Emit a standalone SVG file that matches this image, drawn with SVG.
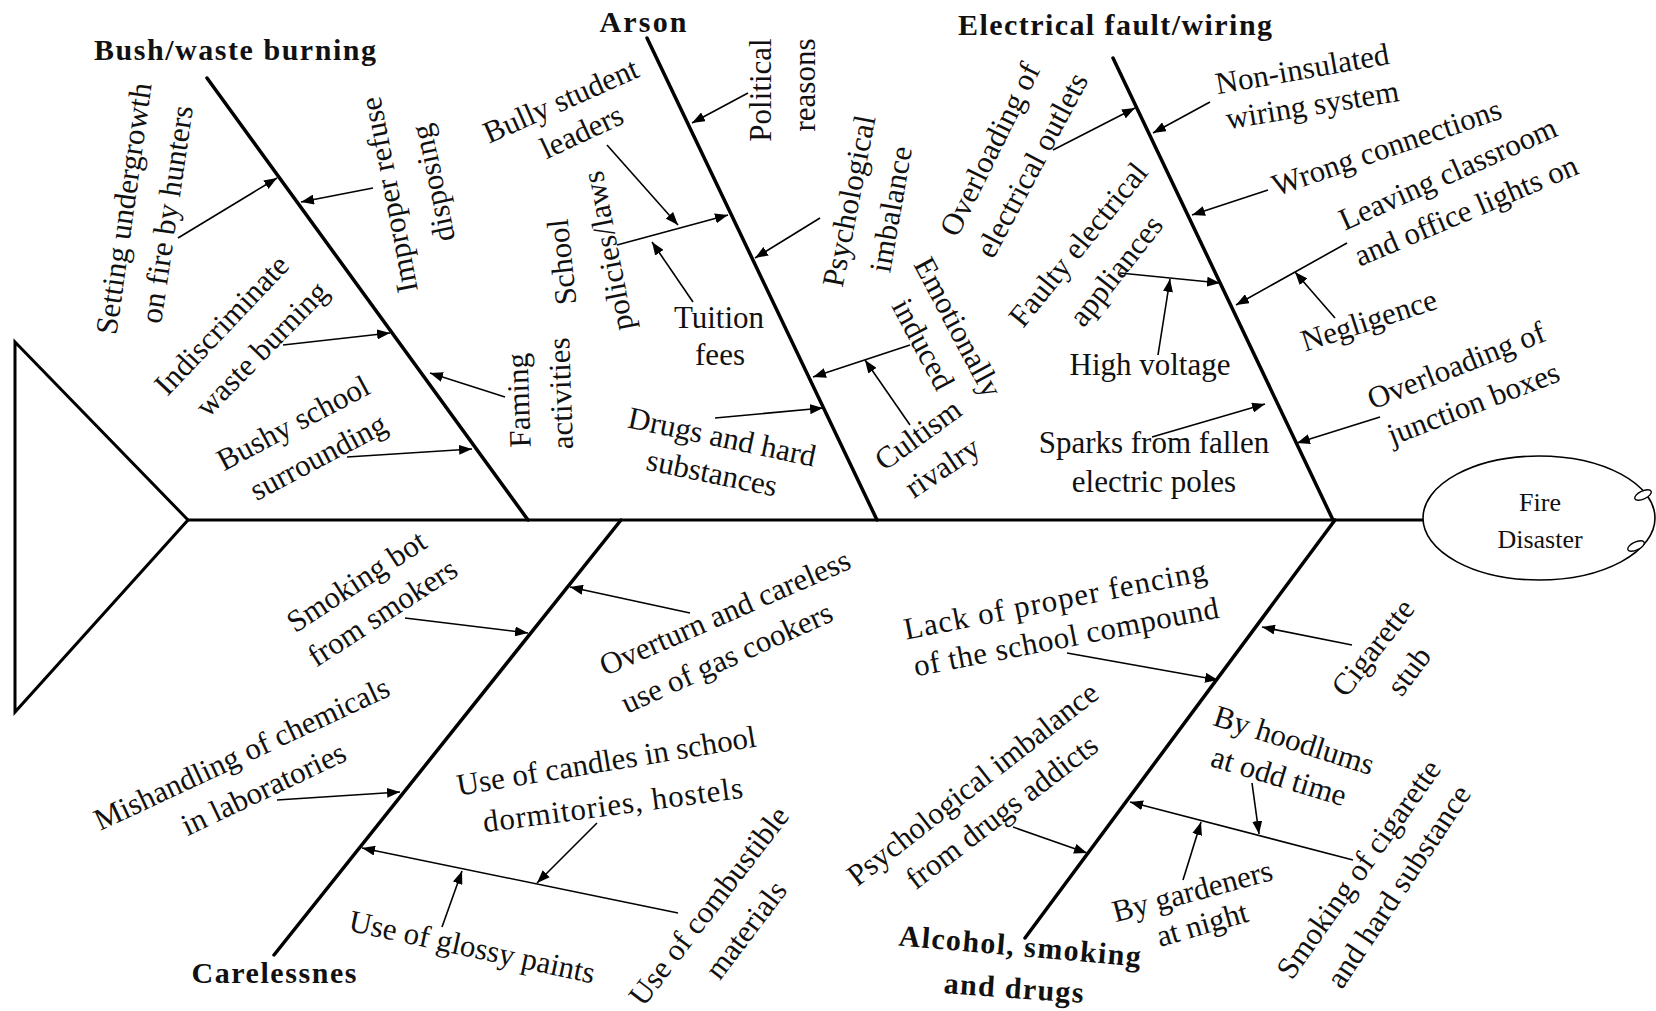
<svg xmlns="http://www.w3.org/2000/svg" width="1656" height="1011" viewBox="0 0 1656 1011">
<defs>
<marker id="ah" markerUnits="userSpaceOnUse" markerWidth="14" markerHeight="10" refX="13" refY="5" orient="auto">
<path d="M0,0 L13,5 L0,10 z" fill="#000"/>
</marker>
<style>
.sk{stroke:#000;stroke-width:3.5;fill:none;stroke-linecap:round}
.sp{stroke:#000;stroke-width:3;fill:none}
.ar{stroke:#000;stroke-width:1.6;fill:none;marker-end:url(#ah)}
.ln{stroke:#000;stroke-width:1.6;fill:none}
text{font-family:"Liberation Serif","Times New Roman",serif;font-size:31px;fill:#111;text-anchor:middle}
.h{font-weight:bold;font-size:30px}
.e{font-size:26px}
</style>
</defs>
<rect width="1656" height="1011" fill="#fff"/>

<g id="skeleton">
<polygon class="sp" points="15,342 188,520 15,712"/>
<line class="sp" x1="188" y1="520" x2="1423" y2="520"/>
<line class="sk" x1="207" y1="78" x2="528" y2="520"/>
<line class="sk" x1="647" y1="38" x2="877" y2="520"/>
<line class="sk" x1="1113" y1="58" x2="1333" y2="520"/>
<line class="sk" x1="621" y1="520" x2="274" y2="955"/>
<line class="sk" x1="1335" y1="520" x2="1025" y2="938"/>
</g>

<g id="effect">
<ellipse cx="1539" cy="518" rx="116" ry="62" fill="none" stroke="#000" stroke-width="1.6"/>
<ellipse cx="1643" cy="495" rx="9" ry="4" transform="rotate(-25 1643 495)" fill="#fff" stroke="#000" stroke-width="1.4"/>
<ellipse cx="1636" cy="546" rx="9" ry="4" transform="rotate(-25 1636 546)" fill="#fff" stroke="#000" stroke-width="1.4"/>
<text class="e" x="1540" y="511">Fire</text>
<text class="e" x="1540" y="548">Disaster</text>
</g>

<g id="connectors">
<line class="ar" x1="178" y1="238" x2="277" y2="178"/>
<line class="ar" x1="373" y1="188" x2="301" y2="202"/>
<line class="ar" x1="283" y1="345" x2="390" y2="333"/>
<line class="ar" x1="347" y1="457" x2="472" y2="449"/>
<line class="ar" x1="505" y1="397" x2="430" y2="373"/>
<line class="ar" x1="607" y1="145" x2="678" y2="225"/>
<line class="ar" x1="617" y1="245" x2="728" y2="215"/>
<line class="ar" x1="693" y1="302" x2="652" y2="242"/>
<line class="ar" x1="748" y1="93" x2="692" y2="123"/>
<line class="ar" x1="820" y1="218" x2="755" y2="258"/>
<line class="ar" x1="910" y1="345" x2="813" y2="377"/>
<line class="ar" x1="910" y1="425" x2="865" y2="360"/>
<line class="ar" x1="715" y1="418" x2="823" y2="408"/>
<line class="ar" x1="1053" y1="150" x2="1135" y2="108"/>
<line class="ar" x1="1210" y1="102" x2="1153" y2="133"/>
<line class="ar" x1="1268" y1="190" x2="1192" y2="215"/>
<line class="ar" x1="1347" y1="243" x2="1236" y2="305"/>
<line class="ar" x1="1335" y1="318" x2="1295" y2="272"/>
<line class="ar" x1="1120" y1="273" x2="1220" y2="283"/>
<line class="ar" x1="1158" y1="355" x2="1170" y2="279"/>
<line class="ar" x1="1152" y1="437" x2="1265" y2="404"/>
<line class="ar" x1="1380" y1="417" x2="1297" y2="443"/>
<line class="ar" x1="405" y1="618" x2="528" y2="633"/>
<line class="ar" x1="690" y1="613" x2="570" y2="587"/>
<line class="ar" x1="277" y1="800" x2="400" y2="792"/>
<line class="ar" x1="678" y1="913" x2="362" y2="848"/>
<line class="ar" x1="597" y1="823" x2="537" y2="883"/>
<line class="ar" x1="442" y1="927" x2="462" y2="871"/>
<line class="ar" x1="1067" y1="653" x2="1218" y2="680"/>
<line class="ar" x1="1352" y1="645" x2="1262" y2="627"/>
<line class="ar" x1="1013" y1="827" x2="1087" y2="853"/>
<line class="ar" x1="1353" y1="860" x2="1130" y2="802"/>
<line class="ar" x1="1252" y1="783" x2="1259" y2="834"/>
<line class="ar" x1="1183" y1="880" x2="1201" y2="822"/>
</g>

<g id="cat-bush"><text class="h" x="235" y="60" textLength="282" lengthAdjust="spacing">Bush/waste burning</text></g>
<g id="cat-arson"><text class="h" x="643" y="32" textLength="87" lengthAdjust="spacing">Arson</text></g>
<g id="cat-electrical"><text class="h" x="1115" y="35" textLength="314" lengthAdjust="spacing">Electrical fault/wiring</text></g>
<g id="cat-careless"><text class="h" x="274" y="983" textLength="165" lengthAdjust="spacing">Carelessnes</text></g>
<g id="cat-alcohol">
<text class="h" x="1019" y="956" transform="rotate(5 1019 956)" textLength="243" lengthAdjust="spacing">Alcohol, smoking</text>
<text class="h" x="1013" y="998" transform="rotate(4 1013 998)" textLength="140" lengthAdjust="spacing">and drugs</text>
</g>

<g id="c-setting">
<text x="134" y="210" transform="rotate(-82 134 210)">Setting undergrowth</text>
<text x="177" y="216" transform="rotate(-81.6 177 216)">on fire by hunters</text>
</g>
<g id="c-improper">
<text x="399" y="193" transform="rotate(-101 399 193)">Improper refuse</text>
<text x="443" y="181" transform="rotate(-102 443 181)">disposing</text>
</g>
<g id="c-indiscriminate">
<text x="229" y="332" transform="rotate(-46.5 229 332)">Indiscriminate</text>
<text x="269" y="356" transform="rotate(-45.7 269 356)">waste burning</text>
</g>
<g id="c-bushy">
<text x="298" y="432" transform="rotate(-28 298 432)">Bushy school</text>
<text x="323" y="466" transform="rotate(-28 323 466)">surrounding</text>
</g>
<g id="c-faming">
<text x="529" y="400" transform="rotate(-92 529 400)">Faming</text>
<text x="571" y="393" transform="rotate(-92 571 393)">activities</text>
</g>

<g id="c-bully">
<text x="565" y="110" transform="rotate(-24 565 110)">Bully student</text>
<text x="586" y="141" transform="rotate(-25 586 141)">leaders</text>
</g>
<g id="c-school">
<text x="572" y="261" transform="rotate(-96 572 261)">School</text>
<text x="618" y="249" transform="rotate(-101 618 249)">policies/laws</text>
</g>
<g id="c-tuition">
<text x="719" y="328">Tuition</text>
<text x="720" y="365">fees</text>
</g>
<g id="c-political">
<text x="771" y="90" transform="rotate(-90 771 90)">Political</text>
<text x="815" y="85" transform="rotate(-90 815 85)">reasons</text>
</g>
<g id="c-psych">
<text x="859" y="203" transform="rotate(-79 859 203)">Psychological</text>
<text x="901" y="211" transform="rotate(-80 901 211)">imbalance</text>
</g>
<g id="c-emotion">
<text x="949" y="332" transform="rotate(62 949 332)">Emotionally</text>
<text x="914" y="349" transform="rotate(62 914 349)">induced</text>
</g>
<g id="c-cultism">
<text x="924" y="443" transform="rotate(-36 924 443)">Cultism</text>
<text x="948" y="476" transform="rotate(-34 948 476)">rivalry</text>
</g>
<g id="c-drugs">
<text x="720" y="447" transform="rotate(11.9 720 447)">Drugs and hard</text>
<text x="710" y="483" transform="rotate(11.7 710 483)">substances</text>
</g>

<g id="c-outlets">
<text x="999" y="154" transform="rotate(-63.7 999 154)">Overloading of</text>
<text x="1041" y="170" transform="rotate(-62 1041 170)">electrical outlets</text>
</g>
<g id="c-noninsulated">
<text x="1304" y="79" transform="rotate(-10 1304 79)">Non-insulated</text>
<text x="1314" y="115" transform="rotate(-9.4 1314 115)">wiring system</text>
</g>
<g id="c-wrong"><text x="1390" y="157" transform="rotate(-19 1390 157)">Wrong connections</text></g>
<g id="c-leaving">
<text x="1452" y="183" transform="rotate(-24 1452 183)">Leaving classroom</text>
<text x="1470" y="220" transform="rotate(-23 1470 220)">and office lights on</text>
</g>
<g id="c-negligence"><text x="1372" y="330" transform="rotate(-18 1372 330)">Negligence</text></g>
<g id="c-junction">
<text x="1460" y="375" transform="rotate(-21.7 1460 375)">Overloading of</text>
<text x="1477" y="413" transform="rotate(-21 1477 413)">junction boxes</text>
</g>
<g id="c-faulty">
<text x="1086" y="251" transform="rotate(-51 1086 251)">Faulty electrical</text>
<text x="1124" y="277" transform="rotate(-51.8 1124 277)">appliances</text>
</g>
<g id="c-voltage"><text x="1150" y="375">High voltage</text></g>
<g id="c-sparks">
<text x="1154" y="453">Sparks from fallen</text>
<text x="1154" y="492">electric poles</text>
</g>

<g id="c-smoking-bot">
<text x="362" y="590" transform="rotate(-33 362 590)">Smoking bot</text>
<text x="388" y="621" transform="rotate(-33 388 621)">from smokers</text>
</g>
<g id="c-overturn">
<text x="729" y="622" transform="rotate(-23.7 729 622)">Overturn and careless</text>
<text x="731" y="667" transform="rotate(-24.3 731 667)">use of gas cookers</text>
</g>
<g id="c-mishandling">
<text x="246" y="763" transform="rotate(-25 246 763)">Mishandling of chemicals</text>
<text x="268" y="798" transform="rotate(-25.4 268 798)">in laboratories</text>
</g>
<g id="c-candles">
<text x="608" y="771" transform="rotate(-9.4 608 771)">Use of candles in school</text>
<text x="614" y="815" transform="rotate(-7.6 614 815)" textLength="262" lengthAdjust="spacing">dormitories, hostels</text>
</g>
<g id="c-glossy"><text x="470" y="957" transform="rotate(12.2 470 957)">Use of glossy paints</text></g>
<g id="c-combustible">
<text x="717" y="912" transform="rotate(-52.5 717 912)">Use of combustible</text>
<text x="754" y="936" transform="rotate(-53 754 936)">materials</text>
</g>

<g id="c-fencing">
<text x="1057" y="610" transform="rotate(-11.1 1057 610)" textLength="308" lengthAdjust="spacing">Lack of proper fencing</text>
<text x="1068" y="647" transform="rotate(-11 1068 647)" textLength="310" lengthAdjust="spacing">of the school compound</text>
</g>
<g id="c-cigarette">
<text x="1381" y="654" transform="rotate(-52 1381 654)">Cigarette</text>
<text x="1417" y="677" transform="rotate(-53 1417 677)">stub</text>
</g>
<g id="c-psych-drugs">
<text x="979" y="792" transform="rotate(-38 979 792)">Psychological imbalance</text>
<text x="1008" y="820" transform="rotate(-37.4 1008 820)">from drugs addicts</text>
</g>
<g id="c-hoodlums">
<text x="1291" y="750" transform="rotate(17.6 1291 750)">By hoodlums</text>
<text x="1276" y="786" transform="rotate(16.8 1276 786)">at odd time</text>
</g>
<g id="c-gardeners">
<text x="1195" y="901" transform="rotate(-15 1195 901)">By gardeners</text>
<text x="1205" y="934" transform="rotate(-16 1205 934)">at night</text>
</g>
<g id="c-smoking-cig">
<text x="1367" y="875" transform="rotate(-54.6 1367 875)">Smoking of cigarette</text>
<text x="1407" y="892" transform="rotate(-56.5 1407 892)">and hard substance</text>
</g>
</svg>
